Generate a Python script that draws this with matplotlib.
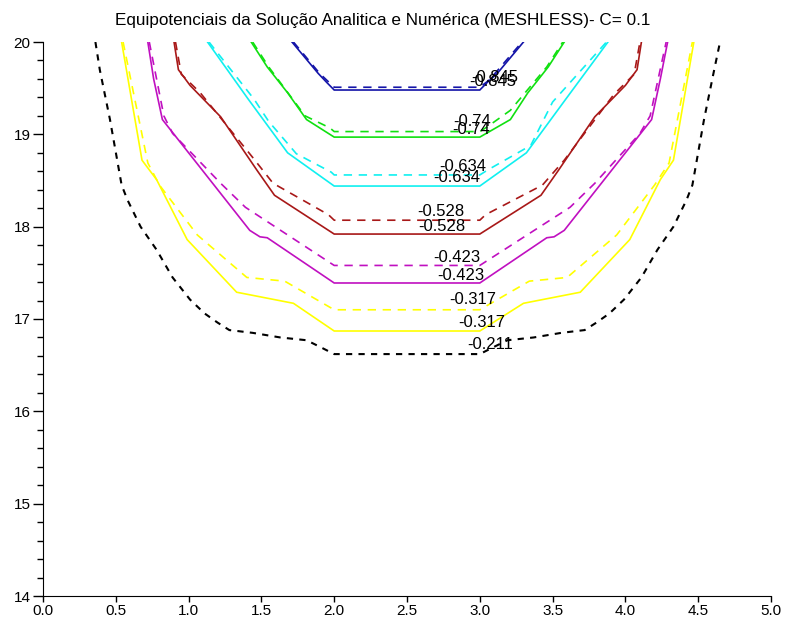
import numpy as np
import matplotlib
matplotlib.use("Agg")
import matplotlib.pyplot as plt

plt.rcParams['font.family'] = ['Liberation Sans', 'DejaVu Sans']

# niveis das equipotenciais
levels = ["-0.845", "-0.74", "-0.634", "-0.528", "-0.423", "-0.317", "-0.211"]
colors = ["#1414a8", "#10e010", "#10f0f0", "#a81818", "#c010c0", "#ffff00", "#000000"]

# solucao analitica (linhas continuas)
ana_x = [
    [1.71, 1.80, 1.89, 1.95, 2.0, 3.0, 3.05, 3.12, 3.30],
    [1.43, 1.54, 1.68, 1.81, 2.0, 3.0, 3.21, 3.33, 3.47, 3.58],
    [1.13, 1.41, 1.68, 2.0, 3.0, 3.32, 3.59, 3.88],
    [0.90, 0.93, 1.01, 1.22, 1.47, 1.59, 2.0, 3.0, 3.42, 3.54, 3.79, 4.00, 4.08, 4.11],
    [0.72, 0.76, 0.82, 1.42, 1.49, 1.54, 2.0, 3.0, 3.46, 3.51, 3.58, 4.18, 4.24, 4.29],
    [0.54, 0.68, 0.78, 0.99, 1.33, 1.72, 2.0, 3.0, 3.30, 3.69, 4.03, 4.24, 4.33, 4.47],
]
ana_y = [
    [20.0, 19.83, 19.66, 19.56, 19.48, 19.48, 19.56, 19.66, 20.0],
    [20.0, 19.73, 19.45, 19.16, 18.97, 18.97, 19.16, 19.45, 19.73, 20.0],
    [20.0, 19.38, 18.80, 18.44, 18.44, 18.80, 19.38, 20.0],
    [20.0, 19.70, 19.53, 19.19, 18.61, 18.34, 17.92, 17.92, 18.34, 18.61, 19.19, 19.53, 19.70, 20.0],
    [20.0, 19.60, 19.16, 17.96, 17.89, 17.88, 17.39, 17.39, 17.88, 17.89, 17.96, 19.16, 19.60, 20.0],
    [20.0, 18.72, 18.51, 17.86, 17.29, 17.17, 16.87, 16.87, 17.17, 17.29, 17.86, 18.51, 18.72, 20.0],
]

# solucao numerica MESHLESS (linhas tracejadas)
num_x = [
    [1.72, 1.81, 1.90, 1.96, 2.0, 3.0, 3.05, 3.11, 3.29],
    [1.44, 1.55, 1.80, 1.97, 2.0, 3.0, 3.05, 3.21, 3.46, 3.57],
    [1.14, 1.45, 1.55, 1.74, 1.98, 2.0, 3.0, 3.05, 3.35, 3.50, 3.87],
    [0.91, 0.95, 1.08, 1.44, 1.58, 1.96, 2.0, 3.0, 3.04, 3.43, 3.58, 3.92, 4.06, 4.10],
    [0.73, 0.83, 0.89, 1.22, 1.39, 2.0, 3.0, 3.62, 3.79, 4.10, 4.17, 4.28],
    [0.55, 0.72, 0.80, 1.06, 1.40, 1.66, 2.0, 3.0, 3.34, 3.60, 3.94, 4.20, 4.30, 4.46],
    [0.36, 0.39, 0.46, 0.54, 0.58, 0.67, 0.78, 0.89, 1.01, 1.11, 1.20, 1.28, 1.44, 1.63, 1.81, 1.90, 2.0,
     3.0, 3.10, 3.19, 3.37, 3.56, 3.72, 3.80, 3.89, 3.99, 4.11, 4.22, 4.33, 4.42, 4.46, 4.54, 4.61, 4.65],
]
num_y = [
    [20.0, 19.83, 19.66, 19.57, 19.51, 19.51, 19.57, 19.67, 20.0],
    [20.0, 19.73, 19.20, 19.07, 19.03, 19.03, 19.08, 19.26, 19.73, 20.0],
    [20.0, 19.38, 19.14, 18.79, 18.59, 18.56, 18.56, 18.61, 18.88, 19.35, 20.0],
    [20.0, 19.65, 19.45, 18.75, 18.47, 18.13, 18.07, 18.07, 18.13, 18.45, 18.72, 19.43, 19.65, 20.0],
    [20.0, 19.20, 19.01, 18.47, 18.21, 17.58, 17.58, 18.21, 18.47, 19.01, 19.20, 20.0],
    [20.0, 18.69, 18.45, 17.91, 17.45, 17.41, 17.10, 17.10, 17.41, 17.45, 17.91, 18.45, 18.69, 20.0],
    [20.0, 19.70, 19.16, 18.45, 18.29, 18.0, 17.75, 17.45, 17.21, 17.06, 16.96, 16.88, 16.85, 16.80, 16.77, 16.70, 16.62,
     16.62, 16.70, 16.77, 16.80, 16.85, 16.88, 16.96, 17.06, 17.21, 17.45, 17.75, 18.0, 18.29, 18.45, 19.16, 19.70, 20.0],
]

# posicao dos rotulos (centro do texto)
ana_lab_x = [3.09, 2.94, 2.84, 2.74, 2.87, 3.01]
ana_lab_y = [19.57, 19.05, 18.53, 18.00, 17.47, 16.96]
num_lab_x = [3.10, 2.95, 2.88, 2.73, 2.84, 2.95, 3.07]
num_lab_y = [19.62, 19.14, 18.65, 18.16, 17.67, 17.21, 16.72]

fig = plt.figure(figsize=(7.88, 6.23), dpi=100)
ax = fig.add_axes([43 / 788, 27 / 623, 728 / 788, 554 / 623])

for i in range(len(ana_x)):
    ax.plot(ana_x[i], ana_y[i], color=colors[i], lw=1.2, solid_joinstyle='miter')
    ax.text(ana_lab_x[i], ana_lab_y[i], levels[i], fontsize=12, ha='center', va='center')

for i in range(len(num_x)):
    if i == len(num_x) - 1:
        ax.plot(num_x[i], num_y[i], color=colors[i], lw=1.5, dashes=(3, 3))
    else:
        ax.plot(num_x[i], num_y[i], color=colors[i], lw=1.2, dashes=(5, 4))
    ax.text(num_lab_x[i], num_lab_y[i], levels[i], fontsize=12, ha='center', va='center')

ax.set_xlim(0, 5)
ax.set_ylim(14, 20)
ax.set_xticks(np.arange(0, 5.01, 0.5))
ax.set_xticklabels([f"{v:.1f}" for v in np.arange(0, 5.01, 0.5)])
ax.set_yticks(np.arange(14, 20.01, 1))
ax.set_yticks(np.arange(14, 20.01, 0.2), minor=True)
ax.spines['top'].set_visible(False)
ax.spines['right'].set_visible(False)
ax.tick_params(axis='x', which='major', length=4, width=1, labelsize=11, pad=1.5, direction='out')
ax.tick_params(axis='y', which='major', length=7, width=1, labelsize=11, pad=2, direction='out')
ax.tick_params(axis='y', which='minor', length=4, width=1)
fig.text(383 / 788, 1 - 20 / 623, "Equipotenciais da Solução Analitica e Numérica (MESHLESS)- C= 0.1",
         fontsize=12.3, ha='center', va='center')

fig.savefig("out.png", dpi=100)
